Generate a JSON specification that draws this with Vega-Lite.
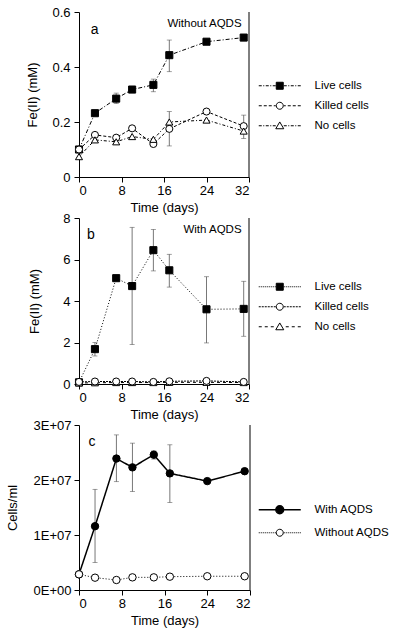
{
  "$schema": "https://vega.github.io/schema/vega-lite/v6.json",
  "background": "white",
  "padding": {"left": 6, "top": 6, "right": 5, "bottom": 5},
  "bounds": "flush",
  "spacing": 41,
  "config": {
    "font": "Liberation Sans",
    "view": {"stroke": null},
    "axis": {"domainColor": "black", "tickColor": "black", "labelColor": "black", "titleColor": "black", "labelFont": "Liberation Sans", "titleFont": "Liberation Sans", "labelFontSize": 13, "titleFontSize": 13, "titleFontWeight": "normal", "grid": false, "tickSize": 5, "labelPadding": 2, "domainWidth": 1, "tickWidth": 1},
    "legend": {"labelFontSize": 11.5, "labelFont": "Liberation Sans", "labelColor": "black"}
  },
  "resolve": {
    "scale": {"shape": "independent", "fill": "independent", "strokeDash": "independent", "strokeWidth": "independent", "y": "independent", "x": "independent"},
    "legend": {"shape": "independent", "fill": "independent", "strokeDash": "independent", "strokeWidth": "independent"}
  },
  "vconcat": [
    {
      "width": 170, "height": 165,
      "data": {"values": [
        {"day": 0, "series": "Live cells", "value": 0.10},
        {"day": 3, "series": "Live cells", "value": 0.232, "lo": 0.222, "hi": 0.243},
        {"day": 7, "series": "Live cells", "value": 0.285, "lo": 0.267, "hi": 0.305},
        {"day": 10, "series": "Live cells", "value": 0.318, "lo": 0.307, "hi": 0.329},
        {"day": 14, "series": "Live cells", "value": 0.335, "lo": 0.31, "hi": 0.356},
        {"day": 17, "series": "Live cells", "value": 0.443, "lo": 0.383, "hi": 0.498},
        {"day": 24, "series": "Live cells", "value": 0.492},
        {"day": 31, "series": "Live cells", "value": 0.507},
        {"day": 0, "series": "Killed cells", "value": 0.10},
        {"day": 3, "series": "Killed cells", "value": 0.153},
        {"day": 7, "series": "Killed cells", "value": 0.143},
        {"day": 10, "series": "Killed cells", "value": 0.177},
        {"day": 14, "series": "Killed cells", "value": 0.12},
        {"day": 17, "series": "Killed cells", "value": 0.175, "lo": 0.113, "hi": 0.238},
        {"day": 24, "series": "Killed cells", "value": 0.238},
        {"day": 31, "series": "Killed cells", "value": 0.185, "lo": 0.14, "hi": 0.225},
        {"day": 0, "series": "No cells", "value": 0.074},
        {"day": 3, "series": "No cells", "value": 0.135},
        {"day": 7, "series": "No cells", "value": 0.128},
        {"day": 10, "series": "No cells", "value": 0.147},
        {"day": 14, "series": "No cells", "value": 0.137},
        {"day": 17, "series": "No cells", "value": 0.2},
        {"day": 24, "series": "No cells", "value": 0.207},
        {"day": 31, "series": "No cells", "value": 0.167}
      ]},
      "layer": [
        {
          "data": {"values": [{"edge": 32}]},
          "mark": {"type": "rule", "color": "black", "strokeWidth": 1},
          "encoding": {"x": {"field": "edge", "type": "quantitative", "title": "Time (days)", "scale": {"domain": [0, 32], "nice": false}, "axis": {"values": [0, 8, 16, 24, 32], "titlePadding": 4}}}
        },
        {
          "transform": [{"filter": "isValid(datum.lo)"}],
          "mark": {"type": "errorbar", "ticks": {"size": 5}, "color": "#555", "thickness": 0.8},
          "encoding": {
            "x": {"field": "day", "type": "quantitative", "title": "Time (days)"},
            "y": {"field": "lo", "type": "quantitative", "title": "Fe(II) (mM)"},
            "y2": {"field": "hi"}
          }
        },
        {
          "mark": {"type": "line", "color": "black", "strokeWidth": 1},
          "encoding": {
            "x": {"field": "day", "type": "quantitative", "title": "Time (days)"},
            "y": {"field": "value", "type": "quantitative", "title": "Fe(II) (mM)", "scale": {"domain": [0, 0.6], "nice": false}, "axis": {"values": [0, 0.2, 0.4, 0.6], "labelExpr": "datum.value === 0 ? '0' : format(datum.value, '.1f')", "labelPadding": 4, "titlePadding": 12}},
            "strokeDash": {"field": "series", "type": "nominal", "scale": {"domain": ["Killed cells", "Live cells", "No cells"], "range": [[3, 2], [4, 2, 1, 2], [3, 2, 1, 2]]}, "legend": null}
          }
        },
        {
          "mark": {"type": "point", "filled": true, "stroke": "black", "strokeWidth": 1, "size": 50, "opacity": 1},
          "encoding": {
            "x": {"field": "day", "type": "quantitative", "title": "Time (days)"},
            "y": {"field": "value", "type": "quantitative", "title": "Fe(II) (mM)"},
            "shape": {"field": "series", "type": "nominal", "scale": {"domain": ["Killed cells", "Live cells", "No cells"], "range": ["circle", "square", "triangle-up"]}, "legend": null},
            "fill": {"field": "series", "type": "nominal", "scale": {"domain": ["Live cells", "Killed cells", "No cells"], "range": ["black", "white", "white"]},
              "legend": {"title": null, "orient": "none", "legendX": 195, "legendY": 68, "symbolSize": 4, "labelOffset": 29, "rowPadding": 7,
                "encoding": {"symbols": {
                  "shape": {"value": {"expr": "datum.value === 'Live cells' ? 'M-21,0H-18M-16.5,0H-15.5M-14,0H-11M-9.5,0H-8.5M-7,0H-4M4,0H7M8.5,0H9.5M11,0H14M15.5,0H16.5M18,0H21M-3.5,-3.5H3.5V3.5H-3.5Z' : datum.value === 'Killed cells' ? 'M-21,0H-18M-16,0H-13M-11,0H-8M-6,0H-4M4,0H6M8,0H11M13,0H16M18,0H21M3.5,0A3.5,3.5,0,1,1,-3.5,0A3.5,3.5,0,1,1,3.5,0Z' : 'M-21,0H-18M-16.5,0H-15.5M-14,0H-11M-9.5,0H-8.5M-7,0H-4M4,0H7M8.5,0H9.5M11,0H14M15.5,0H16.5M18,0H21M0,-3.8L4,3L-4,3Z'"}},
                  "stroke": {"value": "black"},
                  "strokeWidth": {"value": 1},
                  "size": {"value": 4},
                  "opacity": {"value": 1}
                }}
              }
            }
          }
        },
        {
          "data": {"values": [{"day": 2.2, "y": 0.535, "label": "a"}]},
          "mark": {"type": "text", "fontSize": 14, "font": "Liberation Sans", "color": "black", "align": "left", "baseline": "middle"},
          "encoding": {"x": {"field": "day", "type": "quantitative"}, "y": {"field": "y", "type": "quantitative"}, "text": {"field": "label"}}
        },
        {
          "data": {"values": [{"day": 30.6, "y": 0.555, "label": "Without AQDS"}]},
          "mark": {"type": "text", "fontSize": 11.5, "font": "Liberation Sans", "color": "black", "align": "right", "baseline": "middle"},
          "encoding": {"x": {"field": "day", "type": "quantitative"}, "y": {"field": "y", "type": "quantitative"}, "text": {"field": "label"}}
        }
      ]
    },
    {
      "width": 170, "height": 166,
      "data": {"values": [
        {"day": 0, "series": "Live cells", "value": 0.08},
        {"day": 3, "series": "Live cells", "value": 1.68, "lo": 1.35, "hi": 2.0},
        {"day": 7, "series": "Live cells", "value": 5.1},
        {"day": 10, "series": "Live cells", "value": 4.72, "lo": 1.9, "hi": 7.55},
        {"day": 14, "series": "Live cells", "value": 6.45, "lo": 5.45, "hi": 7.45},
        {"day": 17, "series": "Live cells", "value": 5.48, "lo": 4.67, "hi": 6.25},
        {"day": 24, "series": "Live cells", "value": 3.6, "lo": 1.98, "hi": 5.17},
        {"day": 31, "series": "Live cells", "value": 3.62, "lo": 2.3, "hi": 4.95},
        {"day": 0, "series": "No cells", "value": 0.05},
        {"day": 3, "series": "No cells", "value": 0.06},
        {"day": 7, "series": "No cells", "value": 0.07},
        {"day": 10, "series": "No cells", "value": 0.07},
        {"day": 14, "series": "No cells", "value": 0.07},
        {"day": 17, "series": "No cells", "value": 0.08},
        {"day": 24, "series": "No cells", "value": 0.08},
        {"day": 31, "series": "No cells", "value": 0.07},
        {"day": 0, "series": "Killed cells", "value": 0.1},
        {"day": 3, "series": "Killed cells", "value": 0.12},
        {"day": 7, "series": "Killed cells", "value": 0.12},
        {"day": 10, "series": "Killed cells", "value": 0.12},
        {"day": 14, "series": "Killed cells", "value": 0.1},
        {"day": 17, "series": "Killed cells", "value": 0.13},
        {"day": 24, "series": "Killed cells", "value": 0.15},
        {"day": 31, "series": "Killed cells", "value": 0.1}
      ]},
      "layer": [
        {
          "data": {"values": [{"edge": 32}]},
          "mark": {"type": "rule", "color": "black", "strokeWidth": 1},
          "encoding": {"x": {"field": "edge", "type": "quantitative", "title": "Time (days)", "scale": {"domain": [0, 32], "nice": false}, "axis": {"values": [0, 8, 16, 24, 32], "titlePadding": 4}}}
        },
        {
          "transform": [{"filter": "isValid(datum.lo)"}],
          "mark": {"type": "errorbar", "ticks": {"size": 5}, "color": "#555", "thickness": 0.8},
          "encoding": {
            "x": {"field": "day", "type": "quantitative", "title": "Time (days)"},
            "y": {"field": "lo", "type": "quantitative", "title": "Fe(II) (mM)"},
            "y2": {"field": "hi"}
          }
        },
        {
          "mark": {"type": "line", "color": "black", "strokeWidth": 1},
          "encoding": {
            "x": {"field": "day", "type": "quantitative", "title": "Time (days)"},
            "y": {"field": "value", "type": "quantitative", "title": "Fe(II) (mM)", "scale": {"domain": [0, 8], "nice": false}, "axis": {"values": [0, 2, 4, 6, 8], "labelPadding": 4, "titlePadding": 21}},
            "strokeDash": {"field": "series", "type": "nominal", "scale": {"domain": ["Killed cells", "Live cells", "No cells"], "range": [[2, 1], [1, 2], [3, 3]]}, "legend": null}
          }
        },
        {
          "mark": {"type": "point", "filled": true, "stroke": "black", "strokeWidth": 1, "size": 50, "opacity": 1},
          "encoding": {
            "x": {"field": "day", "type": "quantitative", "title": "Time (days)"},
            "y": {"field": "value", "type": "quantitative", "title": "Fe(II) (mM)"},
            "shape": {"field": "series", "type": "nominal", "scale": {"domain": ["Killed cells", "Live cells", "No cells"], "range": ["circle", "square", "triangle-up"]}, "legend": null},
            "fill": {"field": "series", "type": "nominal", "scale": {"domain": ["Live cells", "Killed cells", "No cells"], "range": ["black", "white", "white"]},
              "legend": {"title": null, "orient": "none", "legendX": 195, "legendY": 63, "symbolSize": 4, "labelOffset": 29, "rowPadding": 7,
                "encoding": {"symbols": {
                  "shape": {"value": {"expr": "datum.value === 'Live cells' ? 'M-21,0H-20M-19,0H-18M-17,0H-16M-15,0H-14M-13,0H-12M-11,0H-10M-9,0H-8M-7,0H-6M-5,0H-4M4,0H5M6,0H7M8,0H9M10,0H11M12,0H13M14,0H15M16,0H17M18,0H19M20,0H21M-3.5,-3.5H3.5V3.5H-3.5Z' : datum.value === 'Killed cells' ? 'M-21,0H-19M-18,0H-16M-15,0H-13M-12,0H-10M-9,0H-7M-6,0H-4M4,0H6M7,0H9M10,0H12M13,0H15M16,0H18M19,0H21M3.5,0A3.5,3.5,0,1,1,-3.5,0A3.5,3.5,0,1,1,3.5,0Z' : 'M-21,0H-18M-15,0H-12M-9,0H-6M6,0H9M12,0H15M18,0H21M0,-3.8L4,3L-4,3Z'"}},
                  "stroke": {"value": "black"},
                  "strokeWidth": {"value": 1},
                  "size": {"value": 4},
                  "opacity": {"value": 1}
                }}
              }
            }
          }
        },
        {
          "data": {"values": [{"day": 1.5, "y": 7.2, "label": "b"}]},
          "mark": {"type": "text", "fontSize": 14, "font": "Liberation Sans", "color": "black", "align": "left", "baseline": "middle"},
          "encoding": {"x": {"field": "day", "type": "quantitative"}, "y": {"field": "y", "type": "quantitative"}, "text": {"field": "label"}}
        },
        {
          "data": {"values": [{"day": 30.6, "y": 7.4, "label": "With AQDS"}]},
          "mark": {"type": "text", "fontSize": 11.5, "font": "Liberation Sans", "color": "black", "align": "right", "baseline": "middle"},
          "encoding": {"x": {"field": "day", "type": "quantitative"}, "y": {"field": "y", "type": "quantitative"}, "text": {"field": "label"}}
        }
      ]
    },
    {
      "width": 171, "height": 165,
      "data": {"values": [
        {"day": 0, "series": "With AQDS", "value": 2850000},
        {"day": 3, "series": "With AQDS", "value": 11600000, "lo": 5000000, "hi": 18300000},
        {"day": 7, "series": "With AQDS", "value": 23900000, "lo": 19700000, "hi": 28200000},
        {"day": 10, "series": "With AQDS", "value": 22300000, "lo": 17900000, "hi": 26700000},
        {"day": 14, "series": "With AQDS", "value": 24600000, "lo": 23800000, "hi": 25300000},
        {"day": 17, "series": "With AQDS", "value": 21200000, "lo": 15900000, "hi": 26400000},
        {"day": 24, "series": "With AQDS", "value": 19800000},
        {"day": 31, "series": "With AQDS", "value": 21600000},
        {"day": 0, "series": "Without AQDS", "value": 2850000},
        {"day": 3, "series": "Without AQDS", "value": 2240000},
        {"day": 7, "series": "Without AQDS", "value": 1820000},
        {"day": 10, "series": "Without AQDS", "value": 2300000},
        {"day": 14, "series": "Without AQDS", "value": 2300000},
        {"day": 17, "series": "Without AQDS", "value": 2420000},
        {"day": 24, "series": "Without AQDS", "value": 2500000},
        {"day": 31, "series": "Without AQDS", "value": 2500000}
      ]},
      "layer": [
        {
          "data": {"values": [{"edge": 32}]},
          "mark": {"type": "rule", "color": "black", "strokeWidth": 1},
          "encoding": {"x": {"field": "edge", "type": "quantitative", "title": "Time (days)", "scale": {"domain": [0, 32], "nice": false}, "axis": {"values": [0, 8, 16, 24, 32], "titlePadding": 4}}}
        },
        {
          "transform": [{"filter": "isValid(datum.lo)"}],
          "mark": {"type": "errorbar", "ticks": {"size": 5}, "color": "#555", "thickness": 0.8},
          "encoding": {
            "x": {"field": "day", "type": "quantitative", "title": "Time (days)"},
            "y": {"field": "lo", "type": "quantitative", "title": "Cells/ml"},
            "y2": {"field": "hi"}
          }
        },
        {
          "mark": {"type": "line", "color": "black"},
          "encoding": {
            "x": {"field": "day", "type": "quantitative", "title": "Time (days)"},
            "y": {"field": "value", "type": "quantitative", "title": "Cells/ml", "scale": {"domain": [0, 30000000], "nice": false}, "axis": {"values": [0, 10000000, 20000000, 30000000], "labelExpr": "datum.value === 0 ? '0E+00' : format(datum.value / 10000000, 'd') + 'E+07'", "labelPadding": 3, "titlePadding": 14}},
            "strokeDash": {"field": "series", "type": "nominal", "scale": {"domain": ["Without AQDS", "With AQDS"], "range": [[1, 2], [1, 0]]}, "legend": null},
            "strokeWidth": {"field": "series", "type": "nominal", "scale": {"domain": ["Without AQDS", "With AQDS"], "range": [1, 1.5]}, "legend": null}
          }
        },
        {
          "mark": {"type": "point", "filled": true, "stroke": "black", "strokeWidth": 1, "size": 55, "opacity": 1, "shape": "circle"},
          "encoding": {
            "x": {"field": "day", "type": "quantitative", "title": "Time (days)"},
            "y": {"field": "value", "type": "quantitative", "title": "Cells/ml"},
            "fill": {"field": "series", "type": "nominal", "scale": {"domain": ["With AQDS", "Without AQDS"], "range": ["black", "white"]},
              "legend": {"title": null, "orient": "none", "legendX": 195, "legendY": 79, "symbolSize": 4, "labelOffset": 29, "rowPadding": 9,
                "encoding": {"symbols": {
                  "shape": {"value": {"expr": "datum.value === 'With AQDS' ? 'M-21,0H21M4,0A4,4,0,1,1,-4,0A4,4,0,1,1,4,0Z' : 'M-21,0H-20M-19,0H-18M-17,0H-16M-15,0H-14M-13,0H-12M-11,0H-10M-9,0H-8M-7,0H-6M-5,0H-4M4,0H5M6,0H7M8,0H9M10,0H11M12,0H13M14,0H15M16,0H17M18,0H19M20,0H21M3.5,0A3.5,3.5,0,1,1,-3.5,0A3.5,3.5,0,1,1,3.5,0Z'"}},
                  "stroke": {"value": "black"},
                  "strokeWidth": {"value": {"expr": "datum.value === 'With AQDS' ? 1.3 : 1"}},
                  "size": {"value": 4},
                  "opacity": {"value": 1}
                }}
              }
            }
          }
        },
        {
          "data": {"values": [{"day": 1.8, "y": 26900000, "label": "c"}]},
          "mark": {"type": "text", "fontSize": 14, "font": "Liberation Sans", "color": "black", "align": "left", "baseline": "middle"},
          "encoding": {"x": {"field": "day", "type": "quantitative"}, "y": {"field": "y", "type": "quantitative"}, "text": {"field": "label"}}
        }
      ]
    }
  ]
}
